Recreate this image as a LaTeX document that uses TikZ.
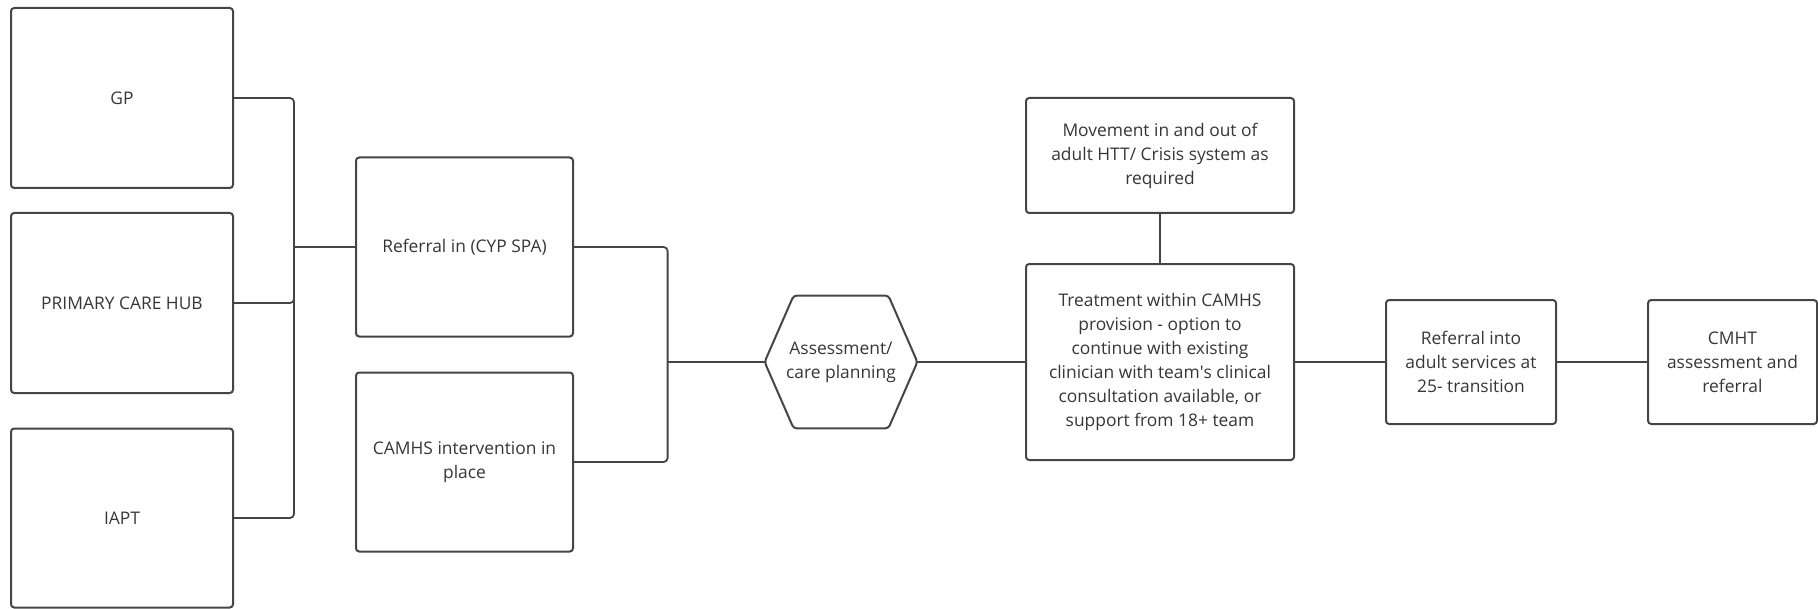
\documentclass[tikz,border=0pt]{standalone}
\usepackage{fontspec}
\setmainfont{Open Sans}
\definecolor{edge}{HTML}{454545}
\definecolor{ink}{HTML}{363636}
\begin{document}
\begin{tikzpicture}[x=0.5pt,y=-0.5pt,
  label font/.style={font=\fontsize{8.7}{12}\selectfont, text=ink, align=center},
  box/.style={draw=edge, line width=1pt, rounded corners=1.6pt, inner sep=0pt, label font},
  link/.style={draw=edge, line width=0.9pt, rounded corners=2pt}]
\useasboundingbox (0,0) rectangle (1818,609);

% sources of referral
\node[box, minimum width=111pt, minimum height=90pt] (gp) at (122,98) {GP};
\node[box, minimum width=111pt, minimum height=90pt] (pch) at (122,303) {PRIMARY CARE HUB};
\node[box, minimum width=111pt, minimum height=89.5pt] (iapt) at (122,518) {IAPT};

% entry points
\node[box, minimum width=108.5pt, minimum height=89.5pt] (ref) at (464.5,247) {Referral in (CYP SPA)};
\node[box, minimum width=108.5pt, minimum height=89.5pt] (cam) at (464.5,462) {CAMHS intervention in\\place};

% assessment hexagon
\node[label font, inner sep=0pt, minimum width=76pt, minimum height=66pt] (hex) at (841,362) {Assessment/\\care planning};
\draw[draw=edge, line width=1pt, rounded corners=1.6pt]
  (hex.west) -- ([xshift=14.5pt]hex.north west) -- ([xshift=-14.5pt]hex.north east)
  -- (hex.east) -- ([xshift=-14.5pt]hex.south east) -- ([xshift=14.5pt]hex.south west) -- cycle;

% treatment and crisis
\node[box, minimum width=134pt, minimum height=57.5pt] (mov) at (1160,155.5) {Movement in and out of\\adult HTT/ Crisis system as\\required};
\node[box, minimum width=134pt, minimum height=98pt] (treat) at (1160,362) {Treatment within CAMHS\\provision - option to\\continue with existing\\clinician with team\textquotesingle s clinical\\consultation available, or\\support from 18+ team};

% transition to adult services
\node[box, minimum width=85pt, minimum height=62pt] (adult) at (1471,362) {Referral into\\adult services at\\25- transition};
\node[box, minimum width=84.5pt, minimum height=62pt] (cmht) at (1732.5,362) {CMHT\\assessment and\\referral};

% junctions of the brackets
\coordinate (j1) at ([xshift=-30.5pt]ref.west);
\coordinate (j2) at ([xshift=-48.5pt]hex.west);

% connectors
\draw[link] (gp.east) -| (j1);
\draw[link] (pch.east) -| (j1);
\draw[link] (iapt.east) -| (j1);
\draw[link] (j1) -- (ref.west);

\draw[link] (ref.east) -| (j2);
\draw[link] (cam.east) -| (j2);
\draw[link] (j2) -- (hex.west);

\draw[link] (hex.east) -- (treat.west);
\draw[link] (mov.south) -- (treat.north);
\draw[link] (treat.east) -- (adult.west);
\draw[link] (adult.east) -- (cmht.west);
\end{tikzpicture}
\end{document}
